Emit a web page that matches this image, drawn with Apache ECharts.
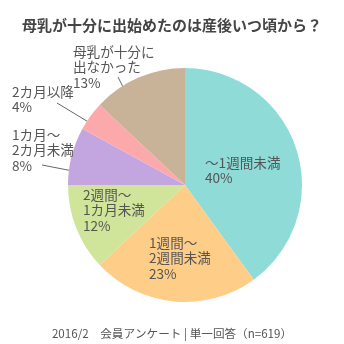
<!DOCTYPE html>
<html><head><meta charset="utf-8">
<script src="https://cdn.jsdelivr.net/npm/echarts@6/dist/echarts.min.js"></script>
<style>html,body{margin:0;padding:0;background:#fff}#c{width:344px;height:344px}</style>
</head><body><div id="c"></div>
<script>
const categories = ['～1週間未満', '1週間～\n2週間未満', '2週間～\n1カ月未満', '1カ月～\n2カ月未満', '2カ月以降', '母乳が十分に\n出なかった'];
const values = [40, 23, 12, 8, 4, 13];
const colors = ['#8edbd7', '#fecd88', '#d0e59a', '#c3a6df', '#fca9ac', '#c8b298'];
const titleText = '母乳が十分に出始めたのは産後いつ頃から？';
const footerText = '2016/2　会員アンケート | 単一回答（n=619）';

// label layout (top-left of text, optional leader line)
const labelLayouts = [
  {x: 205, y: 155},
  {x: 149, y: 235},
  {x: 83, y: 187},
  {x: 12, y: 127, line: [[42, 165], [78, 172]]},
  {x: 12, y: 84, line: [[57, 103], [95, 126]]},
  {x: 73, y: 44, line: [[118, 77], [128, 97]]}
];

const font = '"Noto Sans CJK JP", "Noto Sans", sans-serif';
const chart = echarts.init(document.getElementById('c'));
chart.setOption({
  animation: false,
  title: [{
    text: titleText, left: 'center', top: 13,
    textStyle: {fontFamily: font, fontSize: 15, fontWeight: 'bold', color: '#444'}
  }, {
    text: footerText, left: 'center', top: 323,
    textStyle: {fontFamily: font, fontSize: 11.6, fontWeight: 'normal', color: '#555'}
  }],
  series: [{
    type: 'pie',
    center: [185, 185],
    radius: 117,
    startAngle: 90,
    clockwise: true,
    silent: true,
    avoidLabelOverlap: false,
    data: categories.map((c, i) => ({
      name: c, value: values[i],
      itemStyle: {color: colors[i]},
      labelLine: {show: !!labelLayouts[i].line}
    })),
    label: {
      show: true,
      position: 'outside',
      formatter: '{b}\n{c}%',
      fontFamily: font,
      fontSize: 13.6,
      lineHeight: 15.5,
      color: '#555',
      align: 'left',
      overflow: 'none',
      width: 120,
      edgeDistance: 0,
      bleedMargin: 0
    },
    labelLine: {lineStyle: {color: '#666', width: 1}},
    labelLayout: function (p) {
      const L = labelLayouts[p.dataIndex];
      const r = {x: L.x, y: L.y, align: 'left', verticalAlign: 'top', hideOverlap: false, width: 120};
      if (L.line) r.labelLinePoints = L.line;
      return r;
    }
  }]
});
</script></body></html>
